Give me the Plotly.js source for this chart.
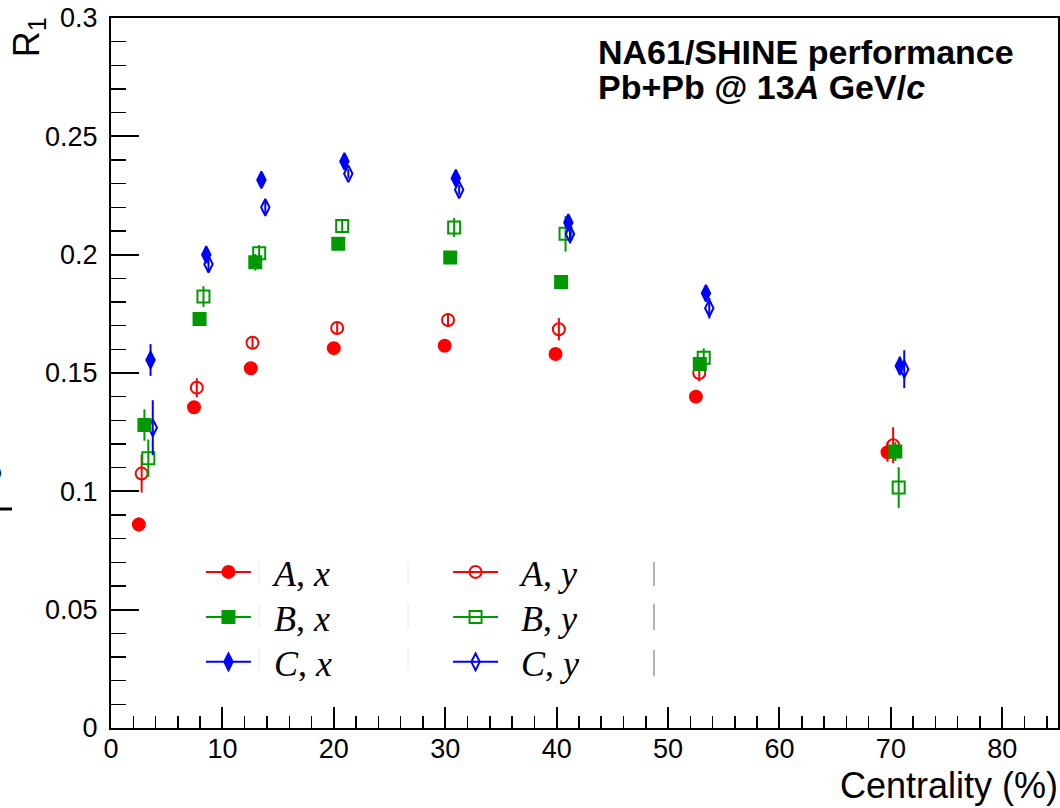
<!DOCTYPE html>
<html>
<head>
<meta charset="utf-8">
<script src="https://cdn.plot.ly/plotly-3.0.1.min.js"></script>
<style>
  html, body { margin: 0; padding: 0; background: #ffffff; }
  #chart { width: 1060px; height: 808px; }
</style>
</head>
<body>
<div id="chart"></div>
<script>
// R1 resolution correction factors versus centrality,
// for the three sub-events A, B, C and the two flow-vector components x, y.

// --- A, x ---
const Ax_cent = [2.5, 7.45, 12.55, 20.0, 29.95, 39.9, 52.5, 69.7];
const Ax_R1   = [0.086, 0.1355, 0.152, 0.1605, 0.1615, 0.158, 0.140, 0.1165];
const Ax_err  = [0.003, 0.002, 0.002, 0.0015, 0.0015, 0.0015, 0.002, 0.004];

// --- A, y ---
const Ay_cent = [2.75, 7.7, 12.7, 20.3, 30.25, 40.2, 52.8, 70.2];
const Ay_R1   = [0.1075, 0.1438, 0.1628, 0.169, 0.1724, 0.1685, 0.150, 0.1195];
const Ay_err  = [0.008, 0.004, 0.0025, 0.0025, 0.003, 0.0047, 0.0035, 0.0076];

// --- B, x ---
const Bx_cent = [3.0, 7.95, 12.95, 20.4, 30.45, 40.4, 52.85, 70.4];
const Bx_R1   = [0.128, 0.1728, 0.1968, 0.2046, 0.1988, 0.1884, 0.1538, 0.1168];
const Bx_err  = [0.0066, 0.002, 0.0035, 0.002, 0.002, 0.002, 0.003, 0.004];

// --- B, y ---
const By_cent = [3.35, 8.3, 13.3, 20.75, 30.8, 40.8, 53.2, 70.7];
const By_R1   = [0.114, 0.1823, 0.2006, 0.2121, 0.2115, 0.2088, 0.1564, 0.1016];
const By_err  = [0.0079, 0.0044, 0.0035, 0.003, 0.004, 0.0075, 0.004, 0.0086];

// --- C, x ---
const Cx_cent = [3.55, 8.55, 13.5, 20.95, 30.95, 41.05, 53.4, 70.8];
const Cx_R1   = [0.1555, 0.200, 0.2316, 0.2394, 0.2323, 0.2136, 0.1837, 0.153];
const Cx_err  = [0.0067, 0.0025, 0.002, 0.002, 0.002, 0.002, 0.002, 0.004];

// --- C, y ---
const Cy_cent = [3.75, 8.75, 13.85, 21.3, 31.25, 41.2, 53.7, 71.2];
const Cy_R1   = [0.1269, 0.196, 0.220, 0.2342, 0.2274, 0.2087, 0.1774, 0.1516];
const Cy_err  = [0.0116, 0.003, 0.003, 0.002, 0.002, 0.004, 0.0044, 0.008];

// legend labels
const labels = {
  Ax: '<i>A</i>, <i>x</i>', Bx: '<i>B</i>, <i>x</i>', Cx: '<i>C</i>, <i>x</i>',
  Ay: '<i>A</i>, <i>y</i>', By: '<i>B</i>, <i>y</i>', Cy: '<i>C</i>, <i>y</i>'
};

const RED = '#ff0000', GREEN = '#009900', BLUE = '#0000ff';

// drawing order: open markers first, filled on top
const series = [
  { key: 'Ay', x: Ay_cent, y: Ay_R1, e: Ay_err, color: RED,   symbol: 'circle-open',       size: 12, legend: 'legend4' },
  { key: 'By', x: By_cent, y: By_R1, e: By_err, color: GREEN, symbol: 'square-open',       size: 12, legend: 'legend5' },
  { key: 'Cy', x: Cy_cent, y: Cy_R1, e: Cy_err, color: BLUE,  symbol: 'diamond-tall-open', size: 12, legend: 'legend6' },
  { key: 'Ax', x: Ax_cent, y: Ax_R1, e: Ax_err, color: RED,   symbol: 'circle',            size: 12, legend: 'legend' },
  { key: 'Bx', x: Bx_cent, y: Bx_R1, e: Bx_err, color: GREEN, symbol: 'square',            size: 12, legend: 'legend2' },
  { key: 'Cx', x: Cx_cent, y: Cx_R1, e: Cx_err, color: BLUE,  symbol: 'diamond-tall',      size: 12, legend: 'legend3' }
];

const traces = [];
series.forEach(s => {
  const marker = { symbol: s.symbol, size: s.size, color: s.color, line: { color: s.color, width: 2 } };
  traces.push({
    type: 'scatter', mode: 'markers', x: s.x, y: s.y,
    marker: marker,
    error_y: { type: 'data', array: s.e, visible: true, color: s.color, thickness: 2, width: 0 },
    showlegend: false, hoverinfo: 'skip'
  });
  // legend entry: line through the marker
  traces.push({
    type: 'scatter', mode: 'lines+markers', x: [null], y: [null],
    name: '\u00A0\u00A0' + labels[s.key],
    marker: marker, line: { color: s.color, width: 2 },
    legend: s.legend, showlegend: true, hoverinfo: 'skip'
  });
});

// legend placement (two columns, three rows)
const legCols = [0.095, 0.3559];
const legRows = [0.2197, 0.1563, 0.093];
function legendBox(col, row) {
  return {
    x: legCols[col], y: legRows[row], xanchor: 'left', yanchor: 'middle',
    bgcolor: 'rgba(0,0,0,0)', borderwidth: 0, itemwidth: 45,
    font: { family: 'Liberation Serif', size: 36, color: '#000' }
  };
}

const axisCommon = {
  ticks: 'inside', tickcolor: '#000', tickwidth: 2,
  showline: true, linecolor: '#000', linewidth: 2, mirror: true,
  showgrid: false, zeroline: false,
  tickfont: { family: 'Liberation Sans', size: 27, color: '#000' }
};

const px = v => (v - 111) / 947;        // paper x from page pixel
const py = v => (728 - v) / 710;        // paper y from page pixel

const layout = {
  width: 1060, height: 808,
  margin: { l: 111, r: 2, t: 18, b: 80 },
  paper_bgcolor: '#ffffff', plot_bgcolor: '#ffffff',
  showlegend: true,
  xaxis: Object.assign({}, axisCommon, {
    range: [0, 85], tick0: 0, dtick: 10, ticklen: 21, ticklabelstandoff: -4,
    minor: { dtick: 2, ticks: 'inside', ticklen: 12, tickwidth: 1.5, tickcolor: '#000', showgrid: false }
  }),
  yaxis: Object.assign({}, axisCommon, {
    range: [0, 0.3], tick0: 0, dtick: 0.05, ticklen: 28, ticklabelstandoff: 6,
    minor: { dtick: 0.01, ticks: 'inside', ticklen: 15, tickwidth: 1.5, tickcolor: '#000', showgrid: false }
  }),
  legend:  legendBox(0, 0),
  legend2: legendBox(0, 1),
  legend3: legendBox(0, 2),
  legend4: legendBox(1, 0),
  legend5: legendBox(1, 1),
  legend6: legendBox(1, 2),
  annotations: [
    { text: 'R<sub>1</sub>', textangle: -90, xref: 'paper', yref: 'paper',
      x: px(29), y: 1.004, xanchor: 'center', yanchor: 'top', showarrow: false,
      font: { family: 'Liberation Sans', size: 36, color: '#000' } },
    { text: 'Centrality (%)', xref: 'paper', yref: 'paper',
      x: 1.002, y: py(786), xanchor: 'right', yanchor: 'middle', showarrow: false,
      font: { family: 'Liberation Sans', size: 36, color: '#000' } },
    { text: '<b>NA61/SHINE performance</b>', xref: 'paper', yref: 'paper',
      x: px(596), y: py(52), xanchor: 'left', yanchor: 'middle', showarrow: false,
      font: { family: 'Liberation Sans', size: 34, color: '#000' } },
    { text: '<b>Pb+Pb @ 13<i>A</i> GeV/<i>c</i></b>', xref: 'paper', yref: 'paper',
      x: px(596), y: py(87), xanchor: 'left', yanchor: 'middle', showarrow: false,
      font: { family: 'Liberation Sans', size: 34, color: '#000' } },
    { text: '\u27E9', xref: 'paper', yref: 'paper',
      x: px(6), y: py(472), xanchor: 'right', yanchor: 'middle', showarrow: false,
      font: { family: 'DejaVu Sans', size: 34, color: '#000' } }
  ],
  shapes: [
    { type: 'line', xref: 'paper', yref: 'paper', x0: px(0), x1: px(12), y0: py(509), y1: py(509),
      line: { color: '#000', width: 3 } },
    // thin separators left by the legend frame
    ...[[562, 586], [604, 630], [650, 676]].map(([a, b]) => ({
      type: 'line', xref: 'paper', yref: 'paper', x0: px(654), x1: px(654), y0: py(a), y1: py(b),
      line: { color: '#9a9a9a', width: 1.5 } })),
    ...[259, 408].flatMap(xx => [[562, 584], [605, 627], [648, 670]].map(([a, b]) => ({
      type: 'line', xref: 'paper', yref: 'paper', x0: px(xx), x1: px(xx), y0: py(a), y1: py(b),
      line: { color: '#e8e8e8', width: 1 } })))
  ]
};

Plotly.newPlot('chart', traces, layout, { displayModeBar: false, staticPlot: true });
</script>
</body>
</html>
